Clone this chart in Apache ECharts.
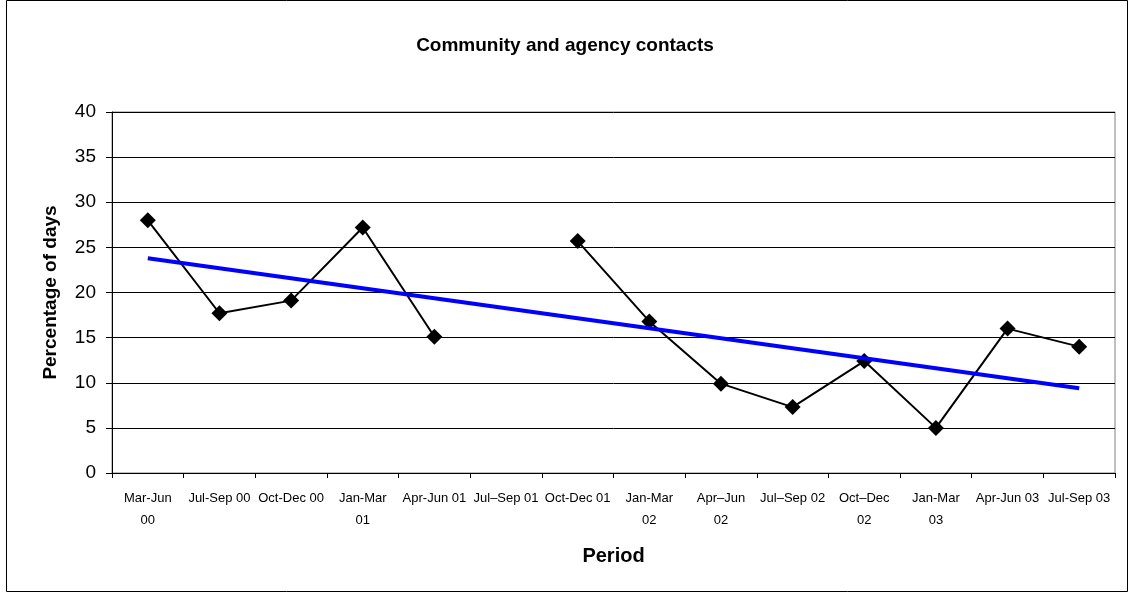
<!DOCTYPE html>
<html><head><meta charset="utf-8">
<script src="https://cdn.jsdelivr.net/npm/echarts@6/dist/echarts.min.js"></script>
<style>html,body{margin:0;padding:0;background:#fff}#c{width:1130px;height:597px}</style>
</head><body><div id="c"></div>
<script>
const categories = ["Mar-Jun\n00","Jul-Sep 00","Oct-Dec 00","Jan-Mar\n01","Apr-Jun 01","Jul\u2013Sep 01","Oct-Dec 01","Jan-Mar\n02","Apr\u2013Jun\n02","Jul\u2013Sep 02","Oct\u2013Dec\n02","Jan-Mar\n03","Apr-Jun 03","Jul-Sep 03"];
const contacts = [28.0, 17.7, 19.1, 27.2, 15.1, null, 25.7, 16.8, 9.9, 7.3, 12.4, 5.0, 16.0, 14.0];
const trend = [23.8, null, null, null, null, null, null, null, null, null, null, null, null, 9.4];
const yTicks = [0, 5, 10, 15, 20, 25, 30, 35, 40];

const chart = echarts.init(document.getElementById('c'), null, {renderer: 'canvas'});
const F = 'Arial, "Liberation Sans", sans-serif';
chart.setOption({
  animation: false,
  backgroundColor: '#fff',
  title: {text: 'Community and agency contacts', left: 'center', top: 31,
    textStyle: {fontFamily: F, fontSize: 19, fontWeight: 'bold', color: '#000'}},
  graphic: [{type: 'rect', shape: {x: 6.5, y: 0.5, width: 1121, height: 591}, style: {fill: 'none', stroke: '#000', lineWidth: 1}, silent: true}],
  grid: {left: 112, right: 15, top: 112, bottom: 124, show: true, borderColor: '#808080', borderWidth: 1, backgroundColor: 'transparent'},
  xAxis: {type: 'category', data: categories, boundaryGap: true,
    name: 'Period', nameLocation: 'middle', nameGap: 73,
    nameTextStyle: {fontFamily: F, fontSize: 20, fontWeight: 'bold', color: '#000'},
    axisLine: {lineStyle: {color: '#000', width: 1}},
    axisTick: {show: true, length: 5, lineStyle: {color: '#000'}, alignWithLabel: false},
    axisLabel: {interval: 0, fontFamily: F, fontSize: 13, color: '#000', margin: 14, lineHeight: 22}},
  yAxis: {type: 'value', min: 0, max: 40, interval: 5,
    name: 'Percentage of days', nameLocation: 'middle', nameGap: 52, nameRotate: 90,
    nameTextStyle: {fontFamily: F, fontSize: 19, fontWeight: 'bold', color: '#000'},
    axisLine: {show: true, lineStyle: {color: '#000'}},
    axisTick: {show: true, length: 6, lineStyle: {color: '#000'}},
    axisLabel: {fontFamily: F, fontSize: 19, color: '#000', margin: 16,
      formatter: v => yTicks.includes(v) ? String(v) : ''},
    splitLine: {show: true, lineStyle: {color: '#000', width: 1}}},
  series: [
    {type: 'line', data: contacts, connectNulls: false, symbol: 'diamond', symbolSize: 16,
      lineStyle: {color: '#000', width: 2}, itemStyle: {color: '#000'}, z: 3},
    {type: 'line', data: trend, connectNulls: true, symbol: 'none',
      lineStyle: {color: '#0000ff', width: 4}, z: 4}
  ]
});
</script></body></html>
